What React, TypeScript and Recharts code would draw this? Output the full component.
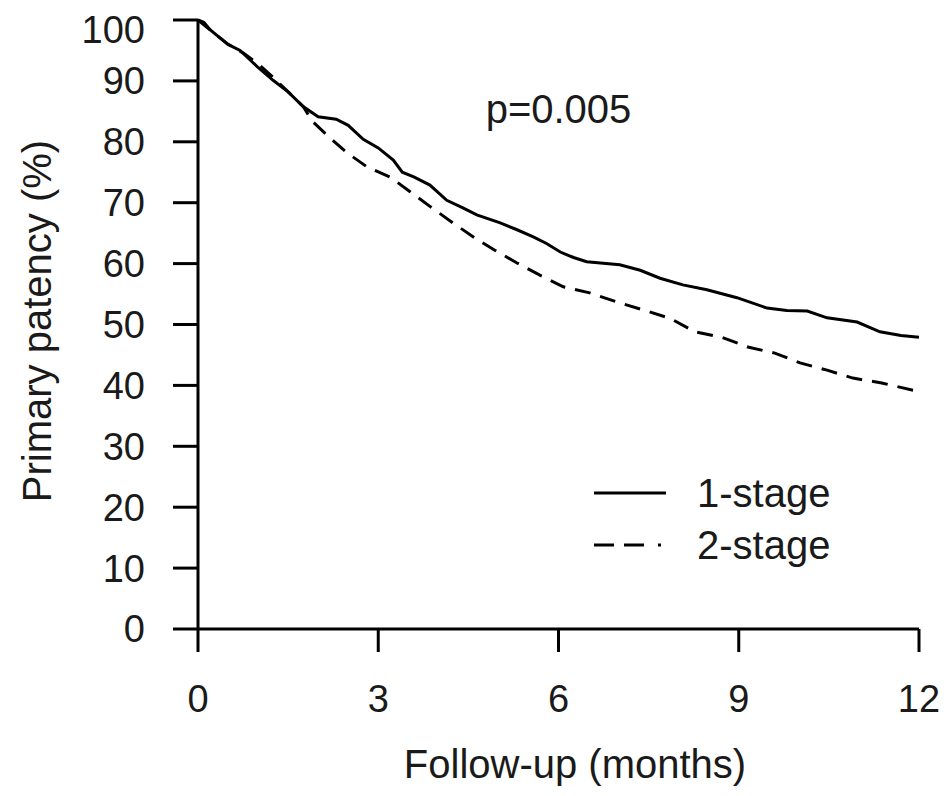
import { LineChart, Line, XAxis, YAxis, ReferenceDot, Legend } from "recharts";

// Kaplan-Meier style curves (months, % patent)
const monthsOne = [0, 0.1, 0.2, 0.35, 0.5, 0.7, 0.85, 1.0, 1.25, 1.5, 1.75, 2.0, 2.3, 2.5, 2.75, 3.0, 3.25, 3.4, 3.6, 3.86, 4.14, 4.4, 4.64, 5.03, 5.3, 5.58, 5.8, 6.03, 6.25, 6.47, 7.02, 7.36, 7.69, 8.07, 8.47, 8.97, 9.47, 9.8, 10.14, 10.47, 10.97, 11.35, 11.7, 12];
const patencyOne = [100, 99.6, 98.4, 97.2, 96.0, 95.0, 93.6, 92.2, 90.1, 88.2, 85.8, 84.1, 83.7, 82.7, 80.4, 79.0, 77.0, 75.0, 74.2, 72.9, 70.4, 69.2, 68.0, 66.7, 65.6, 64.4, 63.3, 61.9, 61.0, 60.3, 59.8, 58.9, 57.6, 56.5, 55.7, 54.4, 52.7, 52.3, 52.2, 51.1, 50.4, 48.8, 48.2, 47.9];

const monthsTwo = [0, 0.2, 0.5, 0.75, 1.0, 1.25, 1.5, 1.75, 1.91, 2.2, 2.48, 2.81, 3.2, 3.53, 3.86, 4.24, 4.61, 4.94, 5.31, 5.69, 6.08, 6.52, 6.97, 7.41, 7.86, 8.27, 8.72, 9.15, 9.6, 10.02, 10.47, 10.9, 11.38, 11.9, 12];
const patencyTwo = [100, 98.4, 96.0, 94.6, 92.8, 90.6, 88.2, 85.8, 83.3, 80.6, 78.2, 75.9, 74.2, 71.8, 69.4, 66.7, 64.2, 62.2, 60.1, 58.1, 56.2, 55.2, 53.7, 52.4, 51.0, 48.8, 47.9, 46.3, 45.3, 43.7, 42.5, 41.2, 40.4, 39.2, 39.1];

const xTicks = [0, 3, 6, 9, 12];
const yTicks = [0, 10, 20, 30, 40, 50, 60, 70, 80, 90, 100];

const oneStage = monthsOne.map((m, i) => ({ month: m, patency: patencyOne[i] }));
const twoStage = monthsTwo.map((m, i) => ({ month: m, patency: patencyTwo[i] }));

const FONT = '"Liberation Sans", Arial, sans-serif';
const INK = "#1a1a1a";

function KeyBox(props: any) {
  const items = props.payload || [];
  return (
    <div style={{ fontFamily: FONT, fontSize: 40, color: INK }}>
      {items.map((it: any) => (
        <div key={it.value} style={{ display: "flex", alignItems: "center", height: 52 }}>
          <svg width={100} height={20}>
            <line x1={6} y1={10} x2={78} y2={10} stroke="#000" strokeWidth={3}
              strokeDasharray={it.payload?.strokeDasharray ? "20 10 20 14 3 40" : undefined} />
          </svg>
          <span style={{ marginLeft: 9 }}>{it.value}</span>
        </div>
      ))}
    </div>
  );
}

export default function App() {
  return (
    <div style={{ width: 940, height: 788 }}>
      <LineChart width={940} height={788} margin={{ top: 12, right: 29, bottom: 0, left: 0 }}>
        <XAxis dataKey="month" type="number" domain={[0, 12]} ticks={xTicks} allowDuplicatedCategory={false}
          axisLine={{ stroke: "#000", strokeWidth: 3 }} tickLine={{ stroke: "#000", strokeWidth: 3 }}
          tickSize={23} tickMargin={33} height={167}
          tick={{ fontSize: 38, fill: INK, fontFamily: FONT }}
          label={() => (
            <text x={567} y={770} textAnchor="middle" fontSize={40} fill={INK} fontFamily={FONT}>
              Follow-up (months)
            </text>
          )} />
        <YAxis type="number" domain={[0, 100]} ticks={yTicks} width={190}
          axisLine={{ stroke: "#000", strokeWidth: 3 }} tickLine={{ stroke: "#000", strokeWidth: 3 }}
          tickSize={25} tickMargin={28}
          tick={{ fontSize: 38, fill: INK, fontFamily: FONT }}
          label={() => (
            <text x={29} y={313} textAnchor="middle" dominantBaseline="central" fontSize={40} fill={INK}
              fontFamily={FONT} transform="rotate(-90 29 313)">
              Primary patency (%)
            </text>
          )} />
        <Line data={oneStage} dataKey="patency" name="1-stage" type="linear" stroke="#000" strokeWidth={3}
          dot={false} isAnimationActive={false} />
        <Line data={twoStage} dataKey="patency" name="2-stage" type="linear" stroke="#000" strokeWidth={3}
          strokeDasharray="16 10" dot={false} isAnimationActive={false} />
        <ReferenceDot x={6} y={85.5} r={0} fill="none" stroke="none"
          label={{ value: "p=0.005", position: "center", fontSize: 40, fill: INK, fontFamily: FONT }} />
        <Legend layout="vertical" align="center" verticalAlign="middle" content={KeyBox}
          wrapperStyle={{ left: 580, top: 459, width: 300 }} />
      </LineChart>
    </div>
  );
}
